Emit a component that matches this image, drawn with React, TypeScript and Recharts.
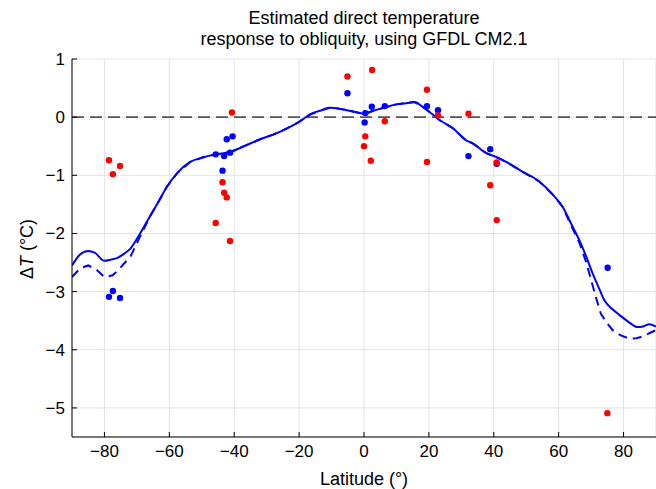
import React from 'react';
import { ComposedChart, Line, Scatter, XAxis, YAxis, CartesianGrid, ReferenceLine } from 'recharts';

const solidLat = [-90, -87.5, -85, -83, -80, -78, -76, -74, -72, -69, -66, -63.4, -60.8, -57.7, -53.6, -49.5, -45.6, -41.3, -36.2, -32, -28, -24, -20, -16.5, -13.6, -10.6, -8, -5.4, -2, 0.2, 2.8, 6, 10, 13, 15.6, 18, 20.2, 23.3, 27.4, 31.5, 33.5, 37.7, 40.5, 43.8, 48.9, 54.1, 58, 61.2, 64, 66.4, 68.5, 70.5, 72.5, 74.1, 76.5, 78.7, 81.5, 84.3, 86, 87.9, 90];
const solidVal = [-2.55, -2.36, -2.3, -2.33, -2.47, -2.45, -2.42, -2.35, -2.26, -2.0, -1.71, -1.46, -1.2, -0.97, -0.77, -0.69, -0.64, -0.6, -0.48, -0.38, -0.3, -0.2, -0.08, 0.05, 0.11, 0.16, 0.15, 0.12, 0.08, 0.06, 0.11, 0.16, 0.22, 0.24, 0.26, 0.18, 0.09, -0.05, -0.19, -0.4, -0.45, -0.62, -0.68, -0.77, -0.94, -1.11, -1.32, -1.54, -1.85, -2.12, -2.4, -2.69, -2.95, -3.15, -3.3, -3.4, -3.52, -3.61, -3.6, -3.56, -3.6];

const dashedLat = [-90, -87.5, -85, -82.5, -80, -77.5, -75.7, -74, -72, -69, -66, -63.4, -60.8, -57.7, -53.6, -49.5, -45.6, -41.3, -36.2, -32, -28, -24, -20, -16.5, -13.6, -10.6, -8, -5.4, -2, 0.2, 2.8, 6, 10, 13, 15.6, 18, 20.2, 23.3, 27.4, 31.5, 33.5, 37.7, 40.5, 43.8, 48.9, 54.1, 58, 61.2, 64, 66.4, 68.5, 70, 71.5, 73, 75, 76.6, 79, 81.8, 84, 85.9, 88.9, 90];
const dashedVal = [-2.75, -2.6, -2.55, -2.62, -2.75, -2.72, -2.63, -2.52, -2.4, -2.05, -1.71, -1.46, -1.2, -0.97, -0.77, -0.69, -0.64, -0.6, -0.48, -0.38, -0.3, -0.2, -0.08, 0.05, 0.11, 0.16, 0.15, 0.12, 0.08, 0.06, 0.11, 0.16, 0.22, 0.24, 0.26, 0.18, 0.09, -0.05, -0.19, -0.4, -0.45, -0.62, -0.68, -0.77, -0.94, -1.11, -1.32, -1.54, -1.88, -2.16, -2.5, -2.8, -3.1, -3.38, -3.55, -3.66, -3.75, -3.81, -3.8, -3.77, -3.69, -3.66];

const redLat = [-78.6, -77.4, -75.2, -43.6, -43.1, -42.3, -45.7, -41.3, -40.7, -5.1, 2.5, 19.4, 6.4, 0.4, 0.0, 2.1, 22.8, 19.4, 32.2, 40.9, 38.9, 40.9, 75.0];
const redVal = [-0.74, -0.98, -0.84, -1.12, -1.3, -1.38, -1.82, -2.13, 0.08, 0.7, 0.81, 0.47, -0.07, -0.33, -0.5, -0.75, 0.03, -0.77, 0.06, -0.78, -1.17, -1.77, -5.09];

const blueLat = [-78.6, -77.4, -75.2, -42.3, -40.5, -45.7, -43.1, -41.3, -43.6, -5.1, 0.2, 0.4, 2.4, 6.4, 19.4, 22.8, 32.2, 38.9, 40.9, 75.1];
const blueVal = [-3.09, -2.99, -3.11, -0.38, -0.33, -0.64, -0.67, -0.61, -0.92, 0.41, -0.09, 0.07, 0.18, 0.19, 0.19, 0.12, -0.67, -0.55, -0.8, -2.59];

const xTicks = [-80, -60, -40, -20, 0, 20, 40, 60, 80];
const yTicks = [-5, -4, -3, -2, -1, 0, 1];

const zip = (xs: number[], ys: number[]) => xs.map((x, i) => ({ lat: x, dt: ys[i] }));
const solidData = zip(solidLat, solidVal);
const dashedData = zip(dashedLat, dashedVal);
const redData = zip(redLat, redVal);
const blueData = zip(blueLat, blueVal);

const FONT = '"Liberation Sans", Arial, Helvetica, sans-serif';
const fmt = (v: number) => (v < 0 ? '\u2212' + Math.abs(v) : String(v));

const Dot = (color: string) => (props: any) => {
  const { cx, cy } = props;
  if (cx == null || cy == null) return null;
  return <circle cx={cx} cy={cy} r={3.2} fill={color} stroke="none" />;
};

export default function App() {
  return (
    <div style={{ position: 'absolute', left: 0, top: 0, width: 656, height: 489, background: '#fff', fontFamily: FONT }}>
      <div style={{ position: 'absolute', left: 72, width: 584, top: 8, textAlign: 'center', fontSize: 18, lineHeight: '21px', color: '#000' }}>
        <div>Estimated direct temperature</div>
        <div>response to obliquity, using GFDL CM2.1</div>
      </div>
      <div style={{ position: 'absolute', left: 72, width: 584, top: 469, textAlign: 'center', fontSize: 18, lineHeight: '20px', color: '#000' }}>
        Latitude (°)
      </div>
      <div style={{ position: 'absolute', left: 27, top: 249, width: 0, height: 0 }}>
        <div style={{ position: 'absolute', left: -60, top: -10, width: 120, textAlign: 'center', fontSize: 18, lineHeight: '20px', transform: 'rotate(-90deg)', whiteSpace: 'nowrap' }}>
          Δ<i>T</i> (°C)
        </div>
      </div>
      <ComposedChart width={656} height={489} margin={{ top: 59, right: 0, bottom: 0, left: 0 }} style={{ position: 'absolute', left: 0, top: 0 }}>
        <CartesianGrid stroke="#e3e3e3" strokeWidth={1} />
        <XAxis
          dataKey="lat"
          type="number"
          domain={[-90, 90]}
          ticks={xTicks}
          allowDataOverflow
          height={52}
          tickSize={-5}
          tickMargin={13}
          tickFormatter={fmt}
          axisLine={{ stroke: '#000', strokeWidth: 1 }}
          tickLine={{ stroke: '#000', strokeWidth: 1 }}
          tick={{ fill: '#000', fontSize: 17, fontFamily: FONT }}
        />
        <YAxis
          dataKey="dt"
          type="number"
          domain={[-5.5, 1]}
          ticks={yTicks}
          allowDataOverflow
          width={72}
          tickSize={-5}
          tickMargin={12}
          tickFormatter={fmt}
          axisLine={{ stroke: '#000', strokeWidth: 1 }}
          tickLine={{ stroke: '#000', strokeWidth: 1 }}
          tick={{ fill: '#000', fontSize: 17, fontFamily: FONT }}
        />
        <ReferenceLine y={0} stroke="#555" strokeWidth={1.6} strokeDasharray="12 6" ifOverflow="hidden" />
        <Line data={dashedData} dataKey="dt" type="linear" stroke="#0000ff" strokeWidth={2} strokeDasharray="9 6" dot={false} activeDot={false} isAnimationActive={false} />
        <Line data={solidData} dataKey="dt" type="monotone" stroke="#0000ff" strokeWidth={2} dot={false} activeDot={false} isAnimationActive={false} />
        <Scatter data={blueData} dataKey="dt" fill="#0000ff" shape={Dot('#0000ff')} isAnimationActive={false} />
        <Scatter data={redData} dataKey="dt" fill="#ff0000" shape={Dot('#ff0000')} isAnimationActive={false} />
      </ComposedChart>
    </div>
  );
}
